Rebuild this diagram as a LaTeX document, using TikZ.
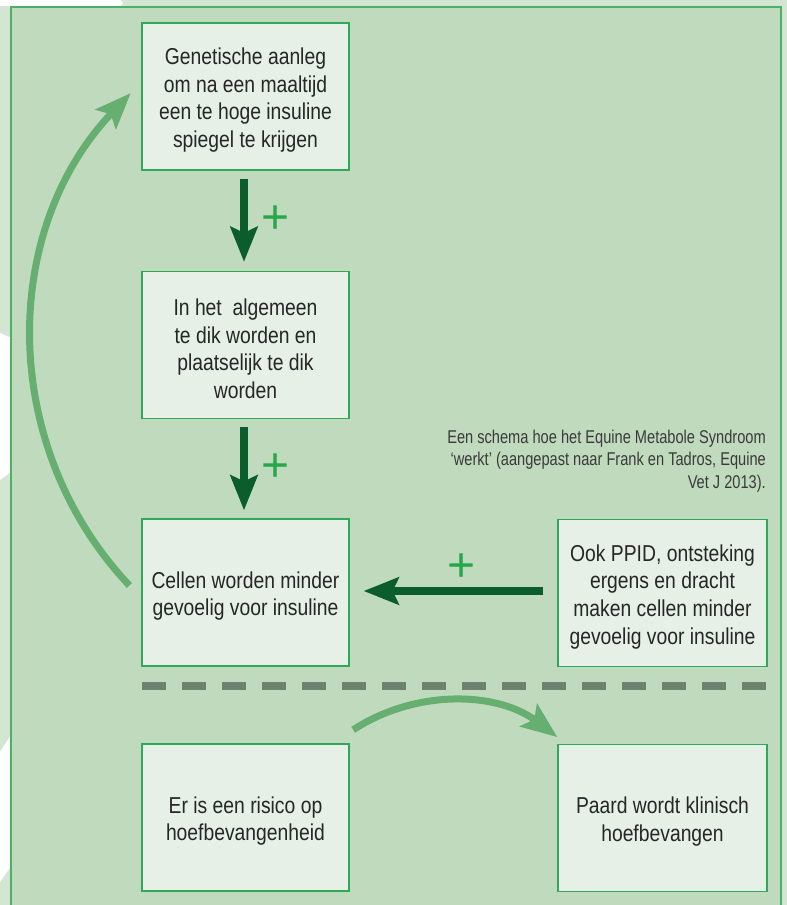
\documentclass[tikz,border=0pt]{standalone}
\usepackage{fontspec}
\setmainfont{Liberation Sans}[FakeStretch=0.84]
\newfontfamily\capfont{Liberation Sans}[FakeStretch=0.79]
\newfontfamily\plusfont{Liberation Sans}
\usetikzlibrary{arrows.meta}
\definecolor{outerbg}{HTML}{D3E6D4}
\definecolor{panel}{HTML}{C0DABE}
\definecolor{framec}{HTML}{4DB067}
\definecolor{boxfill}{HTML}{E6F0E7}
\definecolor{boxline}{HTML}{30A85A}
\definecolor{darkarrow}{HTML}{0B5E2B}
\definecolor{lightarrow}{HTML}{66AF70}
\definecolor{plusc}{HTML}{27A64A}
\definecolor{dashc}{HTML}{6F8270}
\definecolor{txt}{HTML}{262626}
\definecolor{captxt}{HTML}{3A3A3A}
\begin{document}
\begin{tikzpicture}[x=1pt,y=1pt,
  box/.style={draw=boxline, fill=boxfill, line width=1.2pt, minimum width=207pt,
    minimum height=147pt, inner sep=0pt, align=center, text=txt,
    font=\fontsize{23}{27.7}\selectfont},
  darr/.style={draw=darkarrow, line width=8pt, -{Stealth[length=35pt,width=27pt,inset=6pt]}},
  larr/.style={draw=lightarrow, line width=7pt, -{Stealth[length=36pt,width=28pt,inset=7pt]}},
  plussign/.style={text=plusc, font=\plusfont\fontsize{48}{48}\selectfont, inner sep=0pt}]
\useasboundingbox (0,0) rectangle (787,-905);
% background
\fill[outerbg] (0,0) rectangle (787,-905);
\fill[white] (0,0) -- (120,0) .. controls (124,-3) .. (120,-6) -- (0,-6) -- cycle;
\fill[white] (0,-333) -- (11,-338) -- (11,-472) -- (0,-480) -- cycle;
\fill[white] (0,-752) -- (11,-735) -- (11,-866) -- (0,-882) -- cycle;
\draw[framec, fill=panel, line width=1.2pt] (11,-915) -- (11,-7) -- (781,-7) -- (781,-915);
% boxes
\node[box] (gen) at (245.5,-96.5) {\rule{0pt}{24pt}Genetische aanleg\\om na een maaltijd\\een te hoge insuline\\spiegel te krijgen};
\node[box] (dik) at (245.5,-345) {\rule{0pt}{24pt}In het \ algemeen\\te dik worden en\\plaatselijk te dik\\worden};
\node[box] (cel) at (245.5,-592.5) {\rule{0pt}{24pt}Cellen worden minder\\gevoelig voor insuline};
\node[box] (ris) at (245.5,-817.5) {\rule{0pt}{24pt}Er is een risico op\\hoefbevangenheid};
\node[box, minimum width=209pt] (ppid) at (662.5,-593) {\rule{0pt}{24pt}Ook PPID, ontsteking\\ergens en dracht\\maken cellen minder\\gevoelig voor insuline};
\node[box, minimum width=209pt] (paard) at (662.5,-818) {\rule{0pt}{24pt}Paard wordt klinisch\\hoefbevangen};
% caption
\node[anchor=east, align=right, inner sep=0pt, text=captxt,
  font=\capfont\fontsize{18.5}{22.5}\selectfont] (cap) at (766,-461)
  {Een schema hoe het Equine Metabole Syndroom\\‘werkt’ (aangepast naar Frank en Tadros, Equine\\Vet J 2013).};
% dark arrows
\draw[darr, shorten <=8pt, shorten >=9pt] ([xshift=-1.5pt]gen.south) -- ([xshift=-1.5pt]dik.north);
\draw[darr, shorten <=8pt, shorten >=8pt] ([xshift=-1.5pt]dik.south) -- ([xshift=-1.5pt]cel.north);
\draw[darr, shorten <=14pt, shorten >=14pt] ([yshift=2pt]ppid.west) -- ([yshift=1.5pt]cel.east);
% plus signs
\node[plussign] (p1) at (276,-220) {+};
\node[plussign] (p2) at (276,-468) {+};
\node[plussign] (p3) at (462,-568) {+};
% dashed separator
\coordinate (dl) at (142,-686);
\coordinate (dr) at (767,-686);
\draw[dashc, line width=8pt, dash pattern=on 24pt off 16pt] (dl) -- (dr);
% light curved arrows
\coordinate (la) at (129.4,-585.5);
\draw[larr] (la) arc[start angle=223.3, end angle=136.4, radius=358];
\coordinate (lb) at (353.2,-729.8);
\draw[larr] (lb) arc[start angle=123.2, end angle=52.7, radius=177];
\end{tikzpicture}
\end{document}
